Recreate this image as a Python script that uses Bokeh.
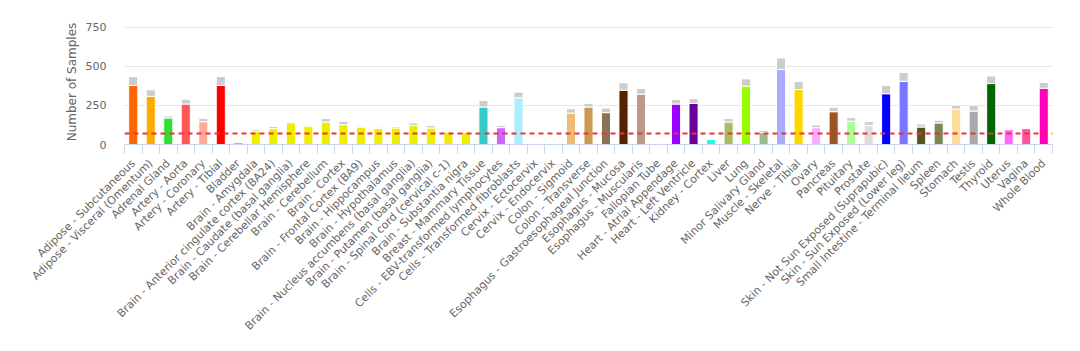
from bokeh.plotting import figure
from bokeh.models import FixedTicker, Range1d, Span, ColumnDataSource
from bokeh.embed import file_html
from bokeh.resources import INLINE
from math import pi

tissues = [
    "Adipose - Subcutaneous", "Adipose - Visceral (Omentum)", "Adrenal Gland",
    "Artery - Aorta", "Artery - Coronary", "Artery - Tibial", "Bladder",
    "Brain - Amygdala", "Brain - Anterior cingulate cortex (BA24)",
    "Brain - Caudate (basal ganglia)", "Brain - Cerebellar Hemisphere",
    "Brain - Cerebellum", "Brain - Cortex", "Brain - Frontal Cortex (BA9)",
    "Brain - Hippocampus", "Brain - Hypothalamus",
    "Brain - Nucleus accumbens (basal ganglia)", "Brain - Putamen (basal ganglia)",
    "Brain - Spinal cord (cervical c-1)", "Brain - Substantia nigra",
    "Breast - Mammary Tissue", "Cells - EBV-transformed lymphocytes",
    "Cells - Transformed fibroblasts", "Cervix - Ectocervix", "Cervix - Endocervix",
    "Colon - Sigmoid", "Colon - Transverse", "Esophagus - Gastroesophageal Junction",
    "Esophagus - Mucosa", "Esophagus - Muscularis", "Fallopian Tube",
    "Heart - Atrial Appendage", "Heart - Left Ventricle", "Kidney - Cortex",
    "Liver", "Lung", "Minor Salivary Gland", "Muscle - Skeletal", "Nerve - Tibial",
    "Ovary", "Pancreas", "Pituitary", "Prostate",
    "Skin - Not Sun Exposed (Suprapubic)", "Skin - Sun Exposed (Lower leg)",
    "Small Intestine - Terminal Ileum", "Spleen", "Stomach", "Testis", "Thyroid",
    "Uterus", "Vagina", "Whole Blood",
]

# samples with genotype (coloured part)
genotyped = [
    378, 308, 170, 259, 146, 378, 11,
    85, 102, 140, 118, 144, 127, 112, 102, 106, 121, 106, 80, 78,
    240, 108, 299, 6, 5, 201, 240, 204, 348, 322, 6,
    259, 263, 32, 144, 374, 76, 480, 352, 108, 210, 150, 123,
    325, 405, 112, 138, 227, 214, 390, 95, 102, 360,
]

# total samples (top of grey part)
total = [
    435, 350, 183, 289, 167, 435, 11,
    97, 115, 146, 124, 166, 148, 117, 110, 115, 138, 121, 85, 85,
    282, 121, 335, 6, 5, 229, 263, 233, 395, 359, 6,
    289, 293, 32, 167, 420, 91, 554, 403, 125, 238, 172, 146,
    378, 461, 131, 155, 252, 252, 439, 100, 105, 397,
]

colors = [
    "#FF6600", "#FFAA00", "#33DD33", "#FF5555", "#FFAA99", "#FF0000", "#AA0000",
    "#EEEE00", "#EEEE00", "#EEEE00", "#EEEE00", "#EEEE00", "#EEEE00", "#EEEE00",
    "#EEEE00", "#EEEE00", "#EEEE00", "#EEEE00", "#EEEE00", "#EEEE00",
    "#33CCCC", "#CC66FF", "#AAEEFF", "#FFCCCC", "#CCAADD", "#EEBB77", "#CC9955",
    "#8B7355", "#552200", "#BB9988", "#FFCCCC", "#9900FF", "#660099", "#22FFDD",
    "#AABB66", "#99FF00", "#99BB88", "#AAAAFF", "#FFD700", "#FFAAFF", "#995522",
    "#AAFF99", "#DDDDDD", "#0000FF", "#7777FF", "#555522", "#778855", "#FFDD99",
    "#AAAAAA", "#006600", "#FF66FF", "#FF5599", "#FF00BB",
]

y_ticks = [0, 250, 500, 750]
threshold = 70

n = len(tissues)
xs = list(range(n))
src = ColumnDataSource(dict(x=xs, g=genotyped, t=total, c=colors,
                            z=[0] * n))

p = figure(width=1080, height=351, output_backend="svg", toolbar_location=None,
           x_range=Range1d(-0.5, n - 0.5), y_range=Range1d(0, 800),
           min_border_left=124, min_border_right=28, min_border_top=19,
           min_border_bottom=207)
p.outline_line_color = None
p.background_fill_color = "white"
p.border_fill_color = "white"

p.vbar(x="x", bottom="z", top="g", width=0.52, fill_color="c",
       line_color="white", line_width=1, source=src)
p.vbar(x="x", bottom="g", top="t", width=0.52, fill_color="#cccccc",
       line_color="white", line_width=1, source=src)

p.add_layout(Span(location=threshold, dimension="width", line_color="#ee3333",
                  line_width=2, line_dash="5 4"))

font = "DejaVu Sans"
# x axis
xa = p.xaxis[0]
xa.ticker = FixedTicker(ticks=xs, minor_ticks=[i - 0.5 for i in range(n + 1)])
xa.major_label_overrides = {i: name for i, name in enumerate(tissues)}
xa.major_label_orientation = pi / 4
xa.major_label_text_font = font
xa.major_label_text_font_size = "11px"
xa.major_label_text_color = "#666666"
xa.major_label_standoff = 8
xa.major_tick_line_color = None
xa.major_tick_out = 0
xa.major_tick_in = 0
xa.minor_tick_line_color = "#ccd6eb"
xa.minor_tick_out = 9
xa.minor_tick_in = 0
xa.axis_line_color = "#ccd6eb"
p.xgrid.grid_line_color = None

# y axis
ya = p.yaxis[0]
ya.ticker = FixedTicker(ticks=y_ticks)
ya.axis_label = "Number of Samples"
ya.axis_label_text_font = font
ya.axis_label_text_font_size = "12px"
ya.axis_label_text_font_style = "normal"
ya.axis_label_text_color = "#666666"
ya.axis_label_standoff = 4
ya.major_label_text_font = font
ya.major_label_text_font_size = "11px"
ya.major_label_text_color = "#666666"
ya.major_label_standoff = 12
ya.axis_line_color = None
ya.major_tick_line_color = None
ya.minor_tick_line_color = None
p.ygrid.grid_line_color = "#e6e6e6"

open("out.html", "w").write(file_html(p, INLINE))
